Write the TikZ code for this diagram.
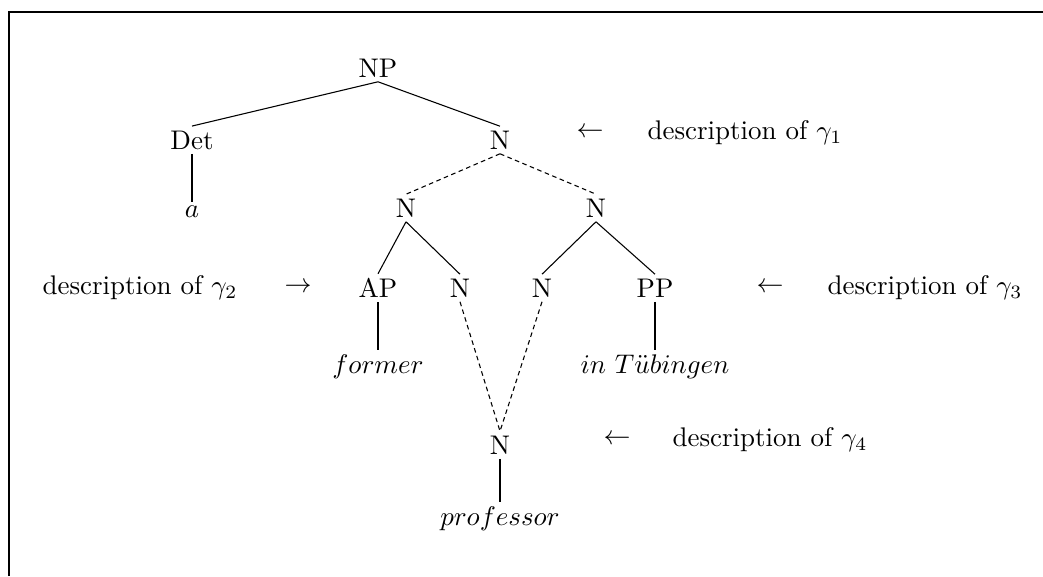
\documentclass[tikz,border=0pt]{standalone}
\usepackage{amsmath}
\usepackage{amssymb}
\usetikzlibrary{positioning}
\tikzset{%
	cat/.style={inner sep=1.5pt},
	word/.style={inner sep=1.5pt},
	desc/.style={inner sep=1pt},
	branch/.style={thin},
	link/.style={thin, dash pattern=on 1.7pt off 1.3pt},
	frame/.style={line width=0.65pt}
}

\begin{document}
\begin{tikzpicture}[x=0.371pt, y=-0.371pt]
	\useasboundingbox (0,0) rectangle (1043,576);
	\coordinate (f-tl) at (9,12);
	\coordinate (f-tr) at (1043,12);
	\coordinate (f-bl) at (9,576);
	\draw [frame] (f-bl) -- (f-tl) -- (f-tr);

	\node[cat] (np) at (378,68) {NP};
	\node[cat] (det) at (192,140) {Det};
	\node[cat] (n1) at (500,140) {N};
	\node[word] (a) at (192,212) {$a$};
	\node[cat] (n2-l) at (406,208) {N};
	\node[cat] (n2-r) at (596,208) {N};
	\node[cat] (ap) at (378,288) {AP};
	\node[cat] (n3-l) at (460,288) {N};
	\node[cat] (n3-r) at (542,288) {N};
	\node[cat] (pp) at (655,288) {PP};
	\node[word] (former) at (378,367) {$former$};
	\node[word] (tueb) at (655,367) {$in\ T\ddot{u}bingen$};
	\node[cat] (n4) at (500,445) {N};
	\node[word] (prof) at (500,519) {$professor$};

	\node[desc] (arr-1) at (590,133) {$\leftarrow$};
	\node[desc] (desc-1) at (745,133) {description of $\gamma_1$};
	\node[desc] (desc-2) at (140,288) {description of $\gamma_2$};
	\node[desc] (arr-2) at (298,288) {$\rightarrow$};
	\node[desc] (arr-3) at (770,288) {$\leftarrow$};
	\node[desc] (desc-3) at (925,288) {description of $\gamma_3$};
	\node[desc] (arr-4) at (617,440) {$\leftarrow$};
	\node[desc] (desc-4) at (770,440) {description of $\gamma_4$};

	\draw [branch] (np.south) -- (det.north);
	\draw [branch] (np.south) -- (n1.north);
	\draw [branch] (det.south) -- (a.north);
	\draw [link] (n1.south) -- (n2-l.north);
	\draw [link] (n1.south) -- (n2-r.north);
	\draw [branch] (n2-l.south) -- (ap.north);
	\draw [branch] (n2-l.south) -- (n3-l.north);
	\draw [branch] (n2-r.south) -- (n3-r.north);
	\draw [branch] (n2-r.south) -- (pp.north);
	\draw [branch] (ap.south) -- (former.north);
	\draw [branch] (pp.south) -- (tueb.north);
	\draw [link] (n3-l.south) -- (n4.north);
	\draw [link] (n3-r.south) -- (n4.north);
	\draw [branch] (n4.south) -- (prof.north);
\end{tikzpicture}
\end{document}
